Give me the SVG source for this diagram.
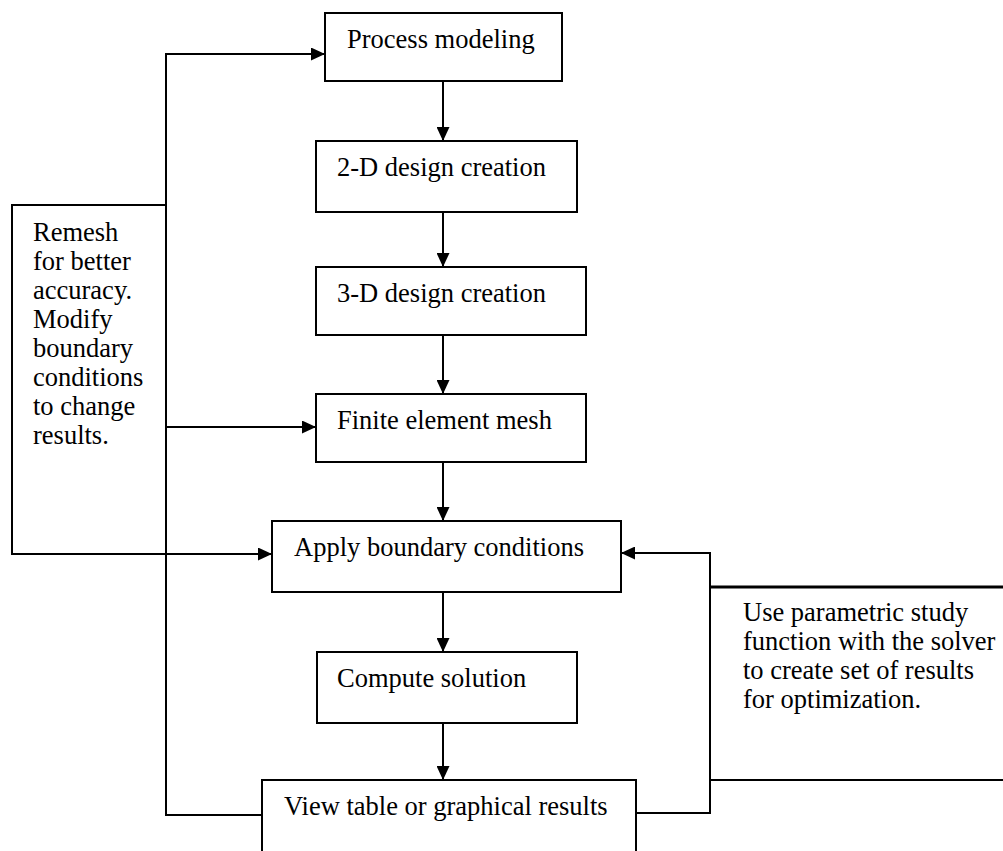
<svg xmlns="http://www.w3.org/2000/svg" width="1003" height="851" viewBox="0 0 1003 851">
<style>
.box{fill:#fff;stroke:#000;stroke-width:2}
.note{fill:none;stroke:#000;stroke-width:2}
.t{font-family:"Liberation Serif","Times New Roman",serif;font-size:26.5px;fill:#000}
.c{fill:none;stroke:#000;stroke-width:2}
</style>
<defs>
<marker id="ah" markerUnits="userSpaceOnUse" markerWidth="14" markerHeight="13" refX="14" refY="6.5" orient="auto">
<path d="M0,0 L14,6.5 L0,13 Z" fill="#000"/>
</marker>
</defs>
<rect width="1003" height="851" fill="#fff"/>
<g id="connectors">
<path class="c" d="M262,815 H166 V54 H325" marker-end="url(#ah)"/>
<path class="c" d="M166,427 H316" marker-end="url(#ah)"/>
<path class="c" d="M166,554 H272" marker-end="url(#ah)"/>
<path class="c" d="M636,813 H710 V553 H621" marker-end="url(#ah)"/>
<path class="c" d="M443,81 V141" marker-end="url(#ah)"/>
<path class="c" d="M443,212 V267" marker-end="url(#ah)"/>
<path class="c" d="M443,335 V394" marker-end="url(#ah)"/>
<path class="c" d="M443,462 V521" marker-end="url(#ah)"/>
<path class="c" d="M443,592 V652" marker-end="url(#ah)"/>
<path class="c" d="M443,723 V780" marker-end="url(#ah)"/>
</g>
<g id="process-modeling">
<rect class="box" x="325" y="13" width="237" height="68"/>
<text class="t" x="347" y="48">Process modeling</text>
</g>
<g id="design-2d">
<rect class="box" x="316" y="141" width="261" height="71"/>
<text class="t" x="337" y="176">2-D design creation</text>
</g>
<g id="design-3d">
<rect class="box" x="316" y="267" width="270" height="68"/>
<text class="t" x="337" y="302">3-D design creation</text>
</g>
<g id="fe-mesh">
<rect class="box" x="316" y="394" width="270" height="68"/>
<text class="t" x="337" y="429">Finite element mesh</text>
</g>
<g id="apply-bc">
<rect class="box" x="272" y="521" width="349" height="71"/>
<text class="t" x="294" y="556">Apply boundary conditions</text>
</g>
<g id="compute">
<rect class="box" x="317" y="652" width="260" height="71"/>
<text class="t" x="337" y="687">Compute solution</text>
</g>
<g id="view-results">
<rect class="box" x="262" y="780" width="374" height="100"/>
<text class="t" x="284" y="815">View table or graphical results</text>
</g>
<g id="remesh-note">
<path class="note" d="M166,205 H12 V554 H166"/>
<text class="t"><tspan x="33" y="241">Remesh</tspan><tspan x="33" y="270">for better</tspan><tspan x="33" y="299">accuracy.</tspan><tspan x="33" y="328">Modify</tspan><tspan x="33" y="357">boundary</tspan><tspan x="33" y="386">conditions</tspan><tspan x="33" y="415">to change</tspan><tspan x="33" y="444">results.</tspan></text>
</g>
<g id="parametric-note">
<path class="note" d="M1003,587 H710 V780 H1003"/>
<path d="M710,587 H1003" stroke="#000" stroke-width="3"/>
<text class="t"><tspan x="743" y="621">Use parametric study</tspan><tspan x="743" y="650">function with the solver</tspan><tspan x="743" y="679">to create set of results</tspan><tspan x="743" y="708">for optimization.</tspan></text>
</g>
</svg>
